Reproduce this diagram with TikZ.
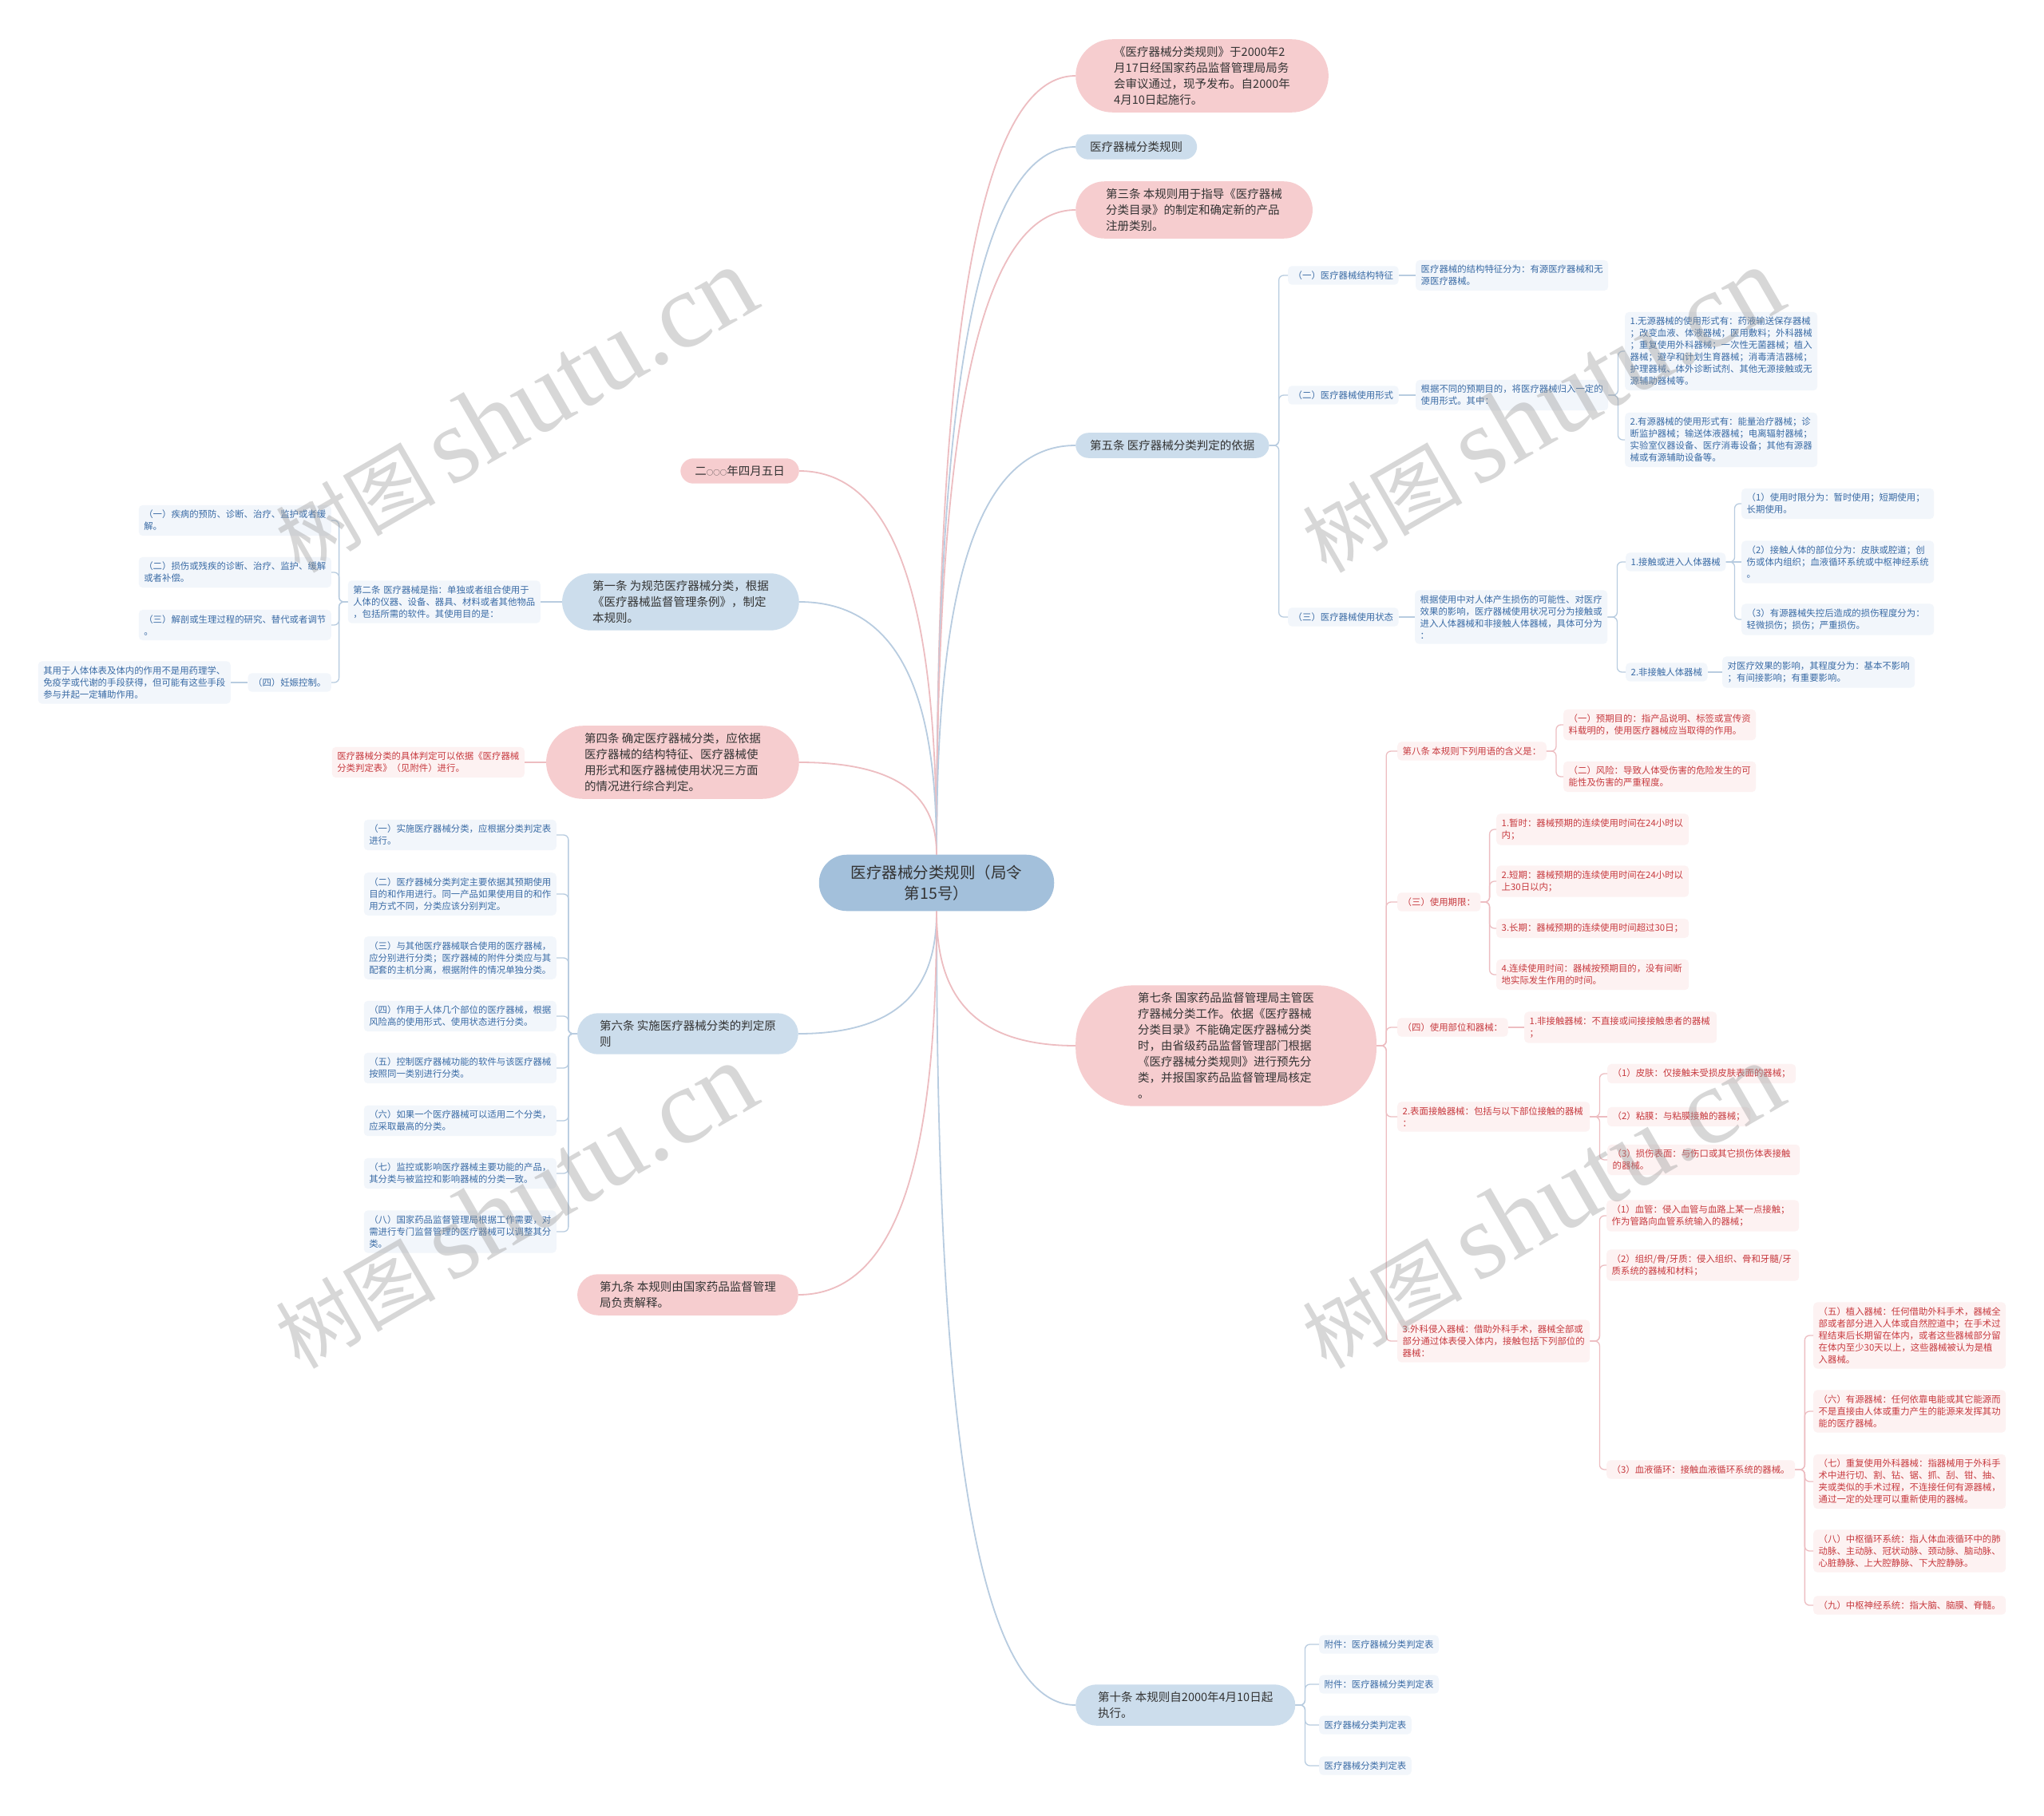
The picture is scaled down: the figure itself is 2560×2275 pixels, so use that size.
\documentclass[tikz,border=0pt]{standalone}
\usepackage{fontspec}
\setmainfont{Noto Sans CJK SC}
\newfontfamily\wmserif{Liberation Serif}
\definecolor{pkfill}{HTML}{F6CDCF}
\definecolor{blfill}{HTML}{CCDDEC}
\definecolor{rootfill}{HTML}{A3C0DB}
\definecolor{smblf}{HTML}{F2F6FB}
\definecolor{smpkf}{HTML}{FDF2F2}
\definecolor{bltxt}{HTML}{3A6BA5}
\definecolor{pktxt}{HTML}{C73A3F}
\definecolor{blline}{HTML}{B8CCE0}
\definecolor{pkline}{HTML}{EDBDC1}
\definecolor{maintxt}{HTML}{333333}
\definecolor{wmgray}{HTML}{969696}
\tikzset{
  bignode/.style={inner ysep=9pt, align=left, text=maintxt, font=\fontsize{14.5}{20}\selectfont},
  bigpk/.style={bignode, fill=pkfill},
  bigbl/.style={bignode, fill=blfill},
  onel/.style={inner xsep=18pt, rounded corners=16pt},
  twol/.style={inner xsep=28pt, rounded corners=26pt},
  threel/.style={inner xsep=38pt, rounded corners=36pt},
  fourl/.style={inner xsep=48pt, rounded corners=46pt},
  sevenl/.style={inner xsep=78pt, rounded corners=72pt},
  rootnode/.style={inner xsep=40pt, inner ysep=13pt, rounded corners=35pt, align=center, fill=rootfill, text=maintxt, font=\fontsize{19.5}{26}\selectfont},
  smnode/.style={rounded corners=5pt, inner xsep=6.5pt, inner ysep=6.3pt, align=left, font=\fontsize{11.4}{15}\selectfont},
  smb/.style={smnode, fill=smblf, text=bltxt},
  smp/.style={smnode, fill=smpkf, text=pktxt},
  wrap/.style={text width=228pt},
  lnb/.style={draw=blline, line width=1.3pt, rounded corners=6pt},
  lnp/.style={draw=pkline, line width=1.3pt, rounded corners=6pt},
  rlb/.style={draw=blline, line width=1.8pt},
  rlp/.style={draw=pkline, line width=1.8pt},
  wmark/.style={text=wmgray, text opacity=0.38, rotate=30, inner sep=0pt}
}
\begin{document}
\begin{tikzpicture}[x=1pt,y=-1pt]
\useasboundingbox (0,0) rectangle (2560,2275);
\fill[white] (0,0) rectangle (2560,2275);

% ---------- root ----------
\node[rootnode] (root) at (1173,1106) {医疗器械分类规则（局令\\第15号）};

% ---------- right level 1 ----------
\node[bigpk,fourl,anchor=west] (r1) at (1347,95) {《医疗器械分类规则》于2000年2\\月17日经国家药品监督管理局局务\\会审议通过，现予发布。自2000年\\4月10日起施行。};
\node[bigbl,onel,anchor=west] (r2) at (1347,184) {医疗器械分类规则};
\node[bigpk,threel,anchor=west] (r3) at (1347,263) {第三条 本规则用于指导《医疗器械\\分类目录》的制定和确定新的产品\\注册类别。};
\node[bigbl,onel,anchor=west] (r4) at (1347,558) {第五条 医疗器械分类判定的依据};
\node[bigpk,sevenl,anchor=west] (r5) at (1347,1310) {第七条 国家药品监督管理局主管医\\疗器械分类工作。依据《医疗器械\\分类目录》不能确定医疗器械分类\\时，由省级药品监督管理部门根据\\《医疗器械分类规则》进行预先分\\类，并报国家药品监督管理局核定\\。};
\node[bigbl,twol,anchor=west] (r6) at (1347,2136) {第十条 本规则自2000年4月10日起\\执行。};

% ---------- left level 1 ----------
\node[bigpk,onel,anchor=east] (l1) at (1001,590) {二{\fontsize{8.5}{10}\selectfont ○○○}年四月五日};
\node[bigbl,threel,anchor=east] (l2) at (1001,754) {第一条 为规范医疗器械分类，根据\\《医疗器械监督管理条例》，制定\\本规则。};
\node[bigpk,fourl,anchor=east] (l3) at (1001,955) {第四条 确定医疗器械分类，应依据\\医疗器械的结构特征、医疗器械使\\用形式和医疗器械使用状况三方面\\的情况进行综合判定。};
\node[bigbl,twol,anchor=east] (l4) at (1000,1295) {第六条 实施医疗器械分类的判定原\\则};
\node[bigpk,twol,anchor=east] (l5) at (1000,1622) {第九条 本规则由国家药品监督管理\\局负责解释。};

% ---------- 第五条 subtree ----------
\node[smb,anchor=west] (a1) at (1613,345) {（一）医疗器械结构特征};
\node[smb,wrap,anchor=west] (a1c) at (1773,345) {医疗器械的结构特征分为：有源医疗器械和无\\源医疗器械。};
\node[smb,anchor=west] (a2) at (1613,495) {（二）医疗器械使用形式};
\node[smb,wrap,anchor=west] (a2c) at (1773,495) {根据不同的预期目的，将医疗器械归入一定的\\使用形式。其中：};
\node[smb,wrap,anchor=west] (a2c1) at (2035,440) {1.无源器械的使用形式有：药液输送保存器械\\；改变血液、体液器械；医用敷料；外科器械\\；重复使用外科器械；一次性无菌器械；植入\\器械；避孕和计划生育器械；消毒清洁器械；\\护理器械、体外诊断试剂、其他无源接触或无\\源辅助器械等。};
\node[smb,wrap,anchor=west] (a2c2) at (2035,551) {2.有源器械的使用形式有：能量治疗器械；诊\\断监护器械；输送体液器械；电离辐射器械；\\实验室仪器设备、医疗消毒设备；其他有源器\\械或有源辅助设备等。};
\node[smb,anchor=west] (a3) at (1613,773) {（三）医疗器械使用状态};
\node[smb,wrap,anchor=west] (a3c) at (1772,773) {根据使用中对人体产生损伤的可能性、对医疗\\效果的影响，医疗器械使用状况可分为接触或\\进入人体器械和非接触人体器械，具体可分为\\：};
\node[smb,anchor=west] (a3c1) at (2036,704) {1.接触或进入人体器械};
\node[smb,anchor=west] (a3c2) at (2036,842) {2.非接触人体器械};
\node[smb,wrap,anchor=west] (a3c1a) at (2181,631) {（1）使用时限分为：暂时使用；短期使用；\\长期使用。};
\node[smb,wrap,anchor=west] (a3c1b) at (2181,704) {（2）接触人体的部位分为：皮肤或腔道；创\\伤或体内组织；血液循环系统或中枢神经系统\\。};
\node[smb,wrap,anchor=west] (a3c1c) at (2181,776) {（3）有源器械失控后造成的损伤程度分为：\\轻微损伤；损伤；严重损伤。};
\node[smb,wrap,anchor=west] (a3c2a) at (2157,842) {对医疗效果的影响，其程度分为：基本不影响\\；有间接影响；有重要影响。};

% ---------- 第七条 subtree ----------
\node[smp,anchor=west] (b1) at (1750,941) {第八条 本规则下列用语的含义是：};
\node[smp,wrap,anchor=west] (b1a) at (1958,908) {（一）预期目的：指产品说明、标签或宣传资\\料载明的，使用医疗器械应当取得的作用。};
\node[smp,wrap,anchor=west] (b1b) at (1958,973) {（二）风险：导致人体受伤害的危险发生的可\\能性及伤害的严重程度。};
\node[smp,anchor=west] (b2) at (1750,1130) {（三）使用期限：};
\node[smp,wrap,anchor=west] (b2a) at (1874,1039) {1.暂时：器械预期的连续使用时间在24小时以\\内；};
\node[smp,wrap,anchor=west] (b2b) at (1874,1104) {2.短期：器械预期的连续使用时间在24小时以\\上30日以内；};
\node[smp,wrap,anchor=west] (b2c) at (1874,1163) {3.长期：器械预期的连续使用时间超过30日；};
\node[smp,wrap,anchor=west] (b2d) at (1874,1221) {4.连续使用时间：器械按预期目的，没有间断\\地实际发生作用的时间。};
\node[smp,anchor=west] (b3) at (1750,1287) {（四）使用部位和器械：};
\node[smp,wrap,anchor=west] (b3a) at (1909,1287) {1.非接触器械：不直接或间接接触患者的器械\\；};
\node[smp,wrap,anchor=west] (b4) at (1750,1399) {2.表面接触器械：包括与以下部位接触的器械\\：};
\node[smp,anchor=west] (b4a) at (2013,1345) {（1）皮肤：仅接触未受损皮肤表面的器械；};
\node[smp,anchor=west] (b4b) at (2013,1399) {（2）粘膜：与粘膜接触的器械；};
\node[smp,wrap,anchor=west] (b4c) at (2013,1453) {（3）损伤表面：与伤口或其它损伤体表接触\\的器械。};
\node[smp,wrap,anchor=west] (b5) at (1750,1680) {3.外科侵入器械：借助外科手术，器械全部或\\部分通过体表侵入体内，接触包括下列部位的\\器械：};
\node[smp,wrap,anchor=west] (b5a) at (2012,1523) {（1）血管：侵入血管与血路上某一点接触；\\作为管路向血管系统输入的器械；};
\node[smp,wrap,anchor=west] (b5b) at (2012,1585) {（2）组织/骨/牙质：侵入组织、骨和牙髓/牙\\质系统的器械和材料；};
\node[smp,anchor=west] (b5c) at (2012,1841) {（3）血液循环：接触血液循环系统的器械。};
\node[smp,wrap,anchor=west] (c1) at (2271,1673) {（五）植入器械：任何借助外科手术，器械全\\部或者部分进入人体或自然腔道中；在手术过\\程结束后长期留在体内，或者这些器械部分留\\在体内至少30天以上，这些器械被认为是植\\入器械。};
\node[smp,wrap,anchor=west] (c2) at (2271,1768) {（六）有源器械：任何依靠电能或其它能源而\\不是直接由人体或重力产生的能源来发挥其功\\能的医疗器械。};
\node[smp,wrap,anchor=west] (c3) at (2271,1856) {（七）重复使用外科器械：指器械用于外科手\\术中进行切、割、钻、锯、抓、刮、钳、抽、\\夹或类似的手术过程，不连接任何有源器械，\\通过一定的处理可以重新使用的器械。};
\node[smp,wrap,anchor=west] (c4) at (2271,1943) {（八）中枢循环系统：指人体血液循环中的肺\\动脉、主动脉、冠状动脉、颈动脉、脑动脉、\\心脏静脉、上大腔静脉、下大腔静脉。};
\node[smp,wrap,anchor=west] (c5) at (2271,2011) {（九）中枢神经系统：指大脑、脑膜、脊髓。};

% ---------- 第十条 subtree ----------
\node[smb,anchor=west] (d1) at (1652,2060) {附件：医疗器械分类判定表};
\node[smb,anchor=west] (d2) at (1652,2110) {附件：医疗器械分类判定表};
\node[smb,anchor=west] (d3) at (1652,2161) {医疗器械分类判定表};
\node[smb,anchor=west] (d4) at (1652,2212) {医疗器械分类判定表};

% ---------- 第一条 subtree ----------
\node[smb,wrap,anchor=east] (e0) at (677,754) {第二条 医疗器械是指：单独或者组合使用于\\人体的仪器、设备、器具、材料或者其他物品\\，包括所需的软件。其使用目的是：};
\node[smb,wrap,anchor=east] (e1) at (415,652) {（一）疾病的预防、诊断、治疗、监护或者缓\\解。};
\node[smb,wrap,anchor=east] (e2) at (415,717) {（二）损伤或残疾的诊断、治疗、监护、缓解\\或者补偿。};
\node[smb,wrap,anchor=east] (e3) at (415,783) {（三）解剖或生理过程的研究、替代或者调节\\。};
\node[smb,anchor=east] (e4) at (415,855) {（四）妊娠控制。};
\node[smb,wrap,anchor=east] (e4a) at (289,855) {其用于人体体表及体内的作用不是用药理学、\\免疫学或代谢的手段获得，但可能有这些手段\\参与并起一定辅助作用。};

% ---------- 第四条 subtree ----------
\node[smp,wrap,anchor=east] (f1) at (657,955) {医疗器械分类的具体判定可以依据《医疗器械\\分类判定表》（见附件）进行。};

% ---------- 第六条 subtree ----------
\node[smb,wrap,anchor=east] (g1) at (697,1046) {（一）实施医疗器械分类，应根据分类判定表\\进行。};
\node[smb,wrap,anchor=east] (g2) at (697,1120) {（二）医疗器械分类判定主要依据其预期使用\\目的和作用进行。同一产品如果使用目的和作\\用方式不同，分类应该分别判定。};
\node[smb,wrap,anchor=east] (g3) at (697,1200) {（三）与其他医疗器械联合使用的医疗器械，\\应分别进行分类；医疗器械的附件分类应与其\\配套的主机分离，根据附件的情况单独分类。};
\node[smb,wrap,anchor=east] (g4) at (697,1273) {（四）作用于人体几个部位的医疗器械，根据\\风险高的使用形式、使用状态进行分类。};
\node[smb,wrap,anchor=east] (g5) at (697,1338) {（五）控制医疗器械功能的软件与该医疗器械\\按照同一类别进行分类。};
\node[smb,wrap,anchor=east] (g6) at (697,1404) {（六）如果一个医疗器械可以适用二个分类，\\应采取最高的分类。};
\node[smb,wrap,anchor=east] (g7) at (697,1470) {（七）监控或影响医疗器械主要功能的产品，\\其分类与被监控和影响器械的分类一致。};
\node[smb,wrap,anchor=east] (g8) at (697,1543) {（八）国家药品监督管理局根据工作需要，对\\需进行专门监督管理的医疗器械可以调整其分\\类。};

% ---------- root connectors ----------
\draw[rlp] (root.north) .. controls (1173,583) and (1200,95) .. (r1.west);
\draw[rlb] (root.north) .. controls (1173,627) and (1200,184) .. (r2.west);
\draw[rlp] (root.north) .. controls (1173,667) and (1200,263) .. (r3.west);
\draw[rlb] (root.north) .. controls (1173,814) and (1200,558) .. (r4.west);
\draw[rlp] (root.south) .. controls (1173,1226) and (1200,1310) .. (r5.west);
\draw[rlb] (root.south) .. controls (1173,1639) and (1200,2136) .. (r6.west);
\draw[rlp] (root.north) .. controls (1173,830) and (1146,590) .. (l1.east);
\draw[rlb] (root.north) .. controls (1173,912) and (1146,754) .. (l2.east);
\draw[rlp] (root.north) .. controls (1173,1013) and (1146,955) .. (l3.east);
\draw[rlb] (root.south) .. controls (1173,1218) and (1146,1295) .. (l4.east);
\draw[rlp] (root.south) .. controls (1173,1382) and (1146,1622) .. (l5.east);

% ---------- 第五条 connectors ----------
\foreach \c in {a1,a2,a3} \draw[lnb] (r4.east) -- ++(12,0) |- (\c.west);
\draw[lnb] (a1.east) -- (a1c.west);
\draw[lnb] (a2.east) -- (a2c.west);
\draw[lnb] (a3.east) -- (a3c.west);
\foreach \c in {a2c1,a2c2} \draw[lnb] (a2c.east) -- ++(12,0) |- (\c.west);
\foreach \c in {a3c1,a3c2} \draw[lnb] (a3c.east) -- ++(12,0) |- (\c.west);
\foreach \c in {a3c1a,a3c1c} \draw[lnb] (a3c1.east) -- ++(11,0) |- (\c.west);
\draw[lnb] (a3c1.east) -- (a3c1b.west);
\draw[lnb] (a3c2.east) -- (a3c2a.west);

% ---------- 第七条 connectors ----------
\foreach \c in {b1,b2,b3,b4,b5} \draw[lnp] (r5.east) -- ++(12,0) |- (\c.west);
\foreach \c in {b1a,b1b} \draw[lnp] (b1.east) -- ++(12,0) |- (\c.west);
\foreach \c in {b2a,b2b,b2c,b2d} \draw[lnp] (b2.east) -- ++(11,0) |- (\c.west);
\draw[lnp] (b3.east) -- (b3a.west);
\foreach \c in {b4a,b4c} \draw[lnp] (b4.east) -- ++(12,0) |- (\c.west);
\draw[lnp] (b4.east) -- (b4b.west);
\foreach \c in {b5a,b5b,b5c} \draw[lnp] (b5.east) -- ++(12,0) |- (\c.west);
\foreach \c in {c1,c2,c3,c4,c5} \draw[lnp] (b5c.east) -- ++(12,0) |- (\c.west);

% ---------- 第十条 connectors ----------
\foreach \c in {d1,d2,d3,d4} \draw[lnb] (r6.east) -- ++(12,0) |- (\c.west);

% ---------- left connectors ----------
\draw[lnb] (l2.west) -- (e0.east);
\foreach \c in {e1,e2,e3,e4} \draw[lnb] (e0.west) -- ++(-11,0) |- (\c.east);
\draw[lnb] (e4.west) -- (e4a.east);
\draw[lnp] (l3.west) -- (f1.east);
\foreach \c in {g1,g2,g3,g4,g5,g6,g7,g8} \draw[lnb] (l4.west) -- ++(-11,0) |- (\c.east);

% ---------- watermarks ----------
\foreach \p/\q in {645/514, 1931/514, 645/1511, 1931/1511}
  \node[wmark] (wm) at (\p,\q) {{\fontsize{100}{100}\selectfont 树图}\hspace{18pt}{\wmserif\fontsize{135}{135}\selectfont shutu.cn}};
\end{tikzpicture}
\end{document}
